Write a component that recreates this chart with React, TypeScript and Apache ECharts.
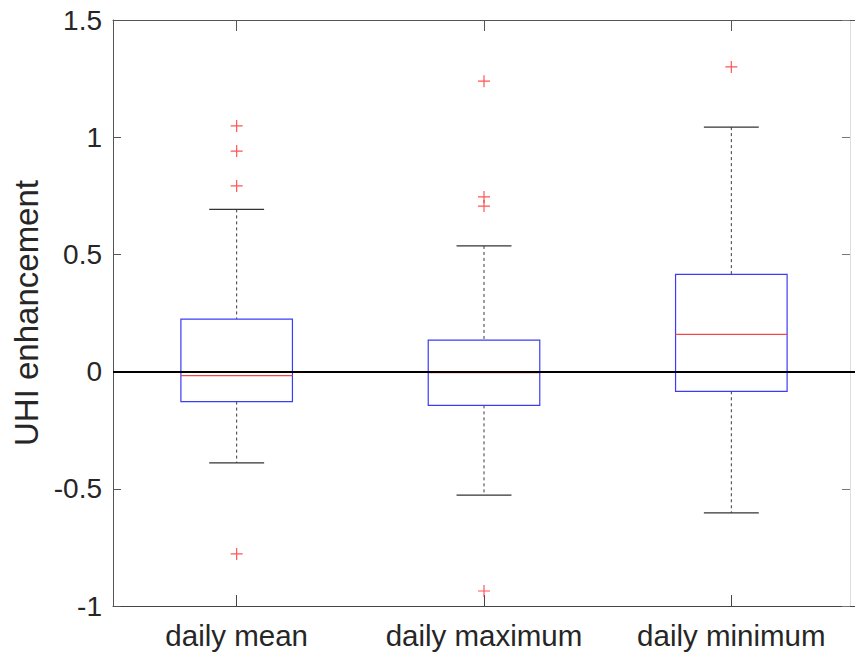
import React, { useEffect, useRef } from "react";
import * as echarts from "echarts";

const categories = ["daily mean", "daily maximum", "daily minimum"];
// [lower whisker, Q1, median, Q3, upper whisker]
const boxStats = [
  [-0.389, -0.128, -0.017, 0.224, 0.692],
  [-0.527, -0.144, -0.005, 0.134, 0.536],
  [-0.603, -0.084, 0.159, 0.415, 1.043],
];
// [category index, value]
const outliers = [
  [0, 1.048],
  [0, 0.941],
  [0, 0.792],
  [0, -0.778],
  [1, 1.239],
  [1, 0.745],
  [1, 0.706],
  [1, -0.936],
  [2, 1.3],
];
const yTicks = { min: -1, max: 1.5, interval: 0.5 };

const FONT = "'Liberation Sans', Helvetica, Arial, sans-serif";
const TEXT = "#262626";

export default function App() {
  const ref = useRef<HTMLDivElement>(null);
  useEffect(() => {
    if (!ref.current) return;
    const chart = echarts.init(ref.current, undefined, { renderer: "svg" });
    const boxData = boxStats.map((s, i) => [i, ...s]);
    chart.setOption({
      animation: false,
      backgroundColor: "#fff",
      grid: { left: 113, right: -3, top: 20, bottom: 47, containLabel: false },
      xAxis: [
        {
          type: "category",
          data: categories,
          boundaryGap: true,
          axisLine: { onZero: false, lineStyle: { color: "#444", width: 1 } },
          axisTick: { show: true, inside: true, length: 11, alignWithLabel: true, interval: 0, lineStyle: { color: "#444" } },
          axisLabel: { color: TEXT, fontSize: 29.5, fontFamily: FONT, margin: 14, interval: 0, hideOverlap: false },
          splitLine: { show: false },
        },
        {
          type: "category",
          data: categories,
          position: "top",
          boundaryGap: true,
          axisLine: { onZero: false, lineStyle: { color: "#555", width: 1 } },
          axisTick: { show: true, inside: true, length: 11, alignWithLabel: true, interval: 0, lineStyle: { color: "#555" } },
          axisLabel: { show: false },
          splitLine: { show: false },
        },
      ],
      yAxis: [
        {
          type: "value",
          min: yTicks.min,
          max: yTicks.max,
          interval: yTicks.interval,
          name: "UHI enhancement",
          nameLocation: "middle",
          nameGap: 70,
          nameTextStyle: { color: TEXT, fontSize: 33, fontFamily: FONT },
          axisLine: { show: true, onZero: false, lineStyle: { color: "#555", width: 1 } },
          axisTick: { show: true, inside: true, length: 8, lineStyle: { color: "#555" } },
          axisLabel: { color: TEXT, fontSize: 28, fontFamily: FONT, margin: 11 },
          splitLine: { show: false },
        },
        {
          type: "value",
          position: "right",
          offset: -5,
          min: yTicks.min,
          max: yTicks.max,
          interval: yTicks.interval,
          axisLine: { show: true, onZero: false, lineStyle: { color: "#ddd", width: 1 } },
          axisTick: { show: true, inside: true, length: 8, lineStyle: { color: "#777" } },
          axisLabel: { show: false },
          splitLine: { show: false },
        },
      ],
      series: [
        {
          type: "custom",
          xAxisIndex: 0,
          yAxisIndex: 0,
          data: boxData,
          encode: { x: 0, y: [1, 2, 3, 4, 5] },
          renderItem: (params: any, api: any) => {
            const idx = api.value(0);
            const band = api.size([1, 0])[0];
            const bw = band * 0.451;
            const cw = band * 0.222;
            const pLow = api.coord([idx, api.value(1)]);
            const pQ1 = api.coord([idx, api.value(2)]);
            const pMed = api.coord([idx, api.value(3)]);
            const pQ3 = api.coord([idx, api.value(4)]);
            const pHigh = api.coord([idx, api.value(5)]);
            const cx = pMed[0];
            const dash = { stroke: "#3a3a3a", lineWidth: 1, lineDash: [3, 3] };
            const cap = { stroke: "#333", lineWidth: 1.2 };
            return {
              type: "group",
              children: [
                { type: "line", shape: { x1: cx, y1: pHigh[1], x2: cx, y2: pQ3[1] }, style: dash },
                { type: "line", shape: { x1: cx, y1: pQ1[1], x2: cx, y2: pLow[1] }, style: dash },
                { type: "line", shape: { x1: cx - cw / 2, y1: pHigh[1], x2: cx + cw / 2, y2: pHigh[1] }, style: cap },
                { type: "line", shape: { x1: cx - cw / 2, y1: pLow[1], x2: cx + cw / 2, y2: pLow[1] }, style: cap },
                {
                  type: "rect",
                  shape: { x: cx - bw / 2, y: pQ3[1], width: bw, height: pQ1[1] - pQ3[1] },
                  style: { fill: "none", stroke: "#3c3cf5", lineWidth: 1.2 },
                },
                {
                  type: "line",
                  shape: { x1: cx - bw / 2, y1: pMed[1], x2: cx + bw / 2, y2: pMed[1] },
                  style: { stroke: "#f04848", lineWidth: 1.2 },
                },
              ],
            };
          },
          z: 2,
        },
        {
          type: "scatter",
          xAxisIndex: 0,
          yAxisIndex: 0,
          data: outliers,
          symbol: "path://M0,5L10,5M5,0L5,10",
          symbolSize: 12,
          itemStyle: { color: "none", borderColor: "#ff2a2a", borderWidth: 1.2 },
          z: 3,
          markLine: {
            silent: true,
            symbol: "none",
            label: { show: false },
            data: [{ yAxis: 0 }],
            lineStyle: { color: "#000", width: 2, type: "solid" },
          },
        },
      ],
    });
    return () => chart.dispose();
  }, []);
  return <div ref={ref} style={{ width: 855, height: 653, position: "absolute", left: 0, top: 0 }} />;
}
